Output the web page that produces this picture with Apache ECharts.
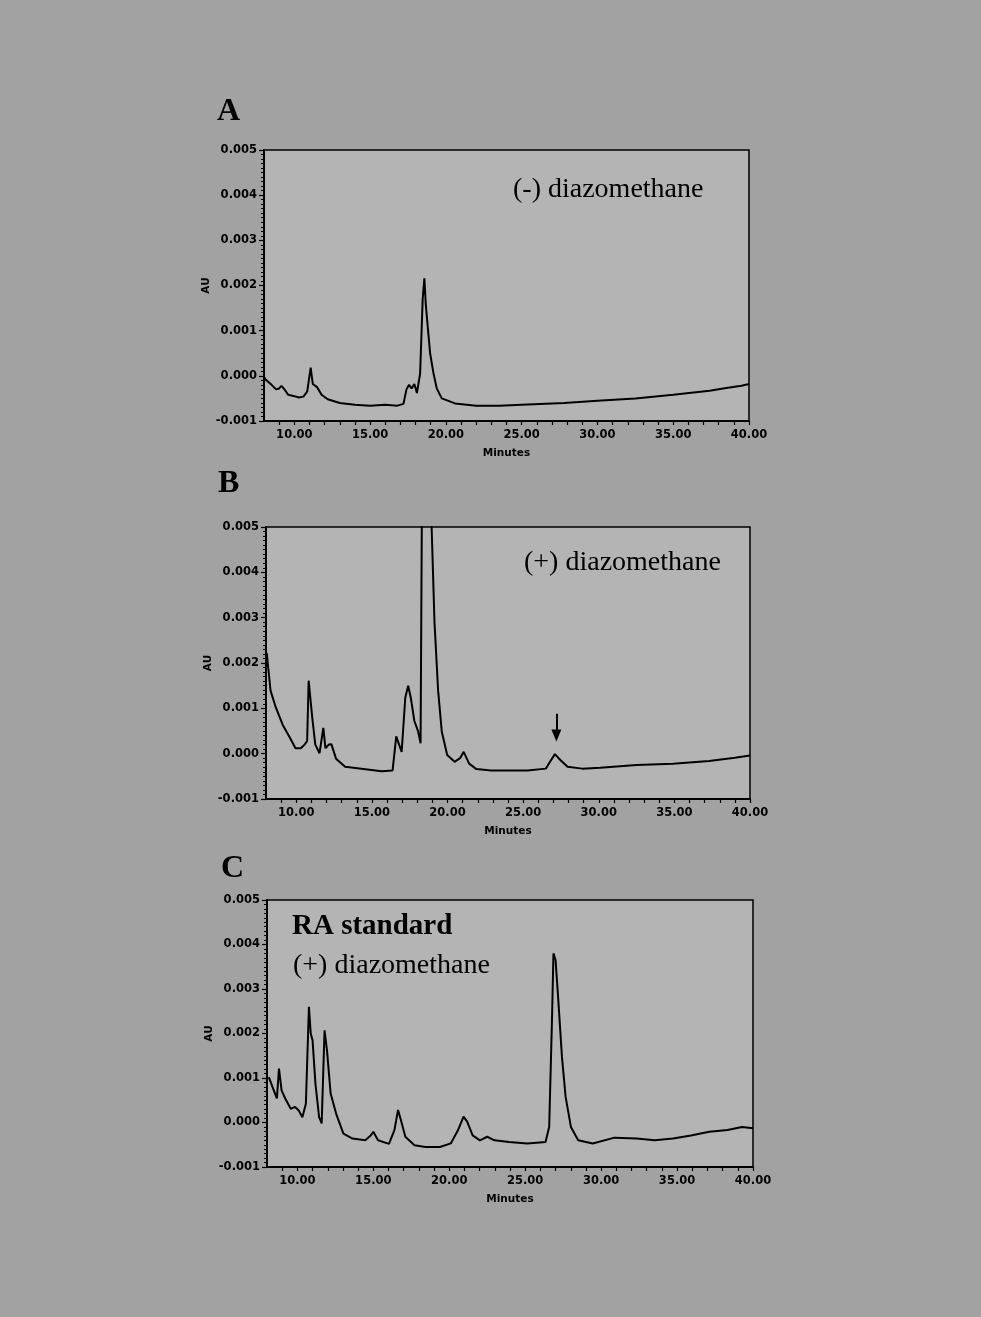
<!DOCTYPE html>
<html>
<head>
<meta charset="utf-8">
<script src="https://cdn.jsdelivr.net/npm/echarts@6/dist/echarts.min.js"></script>
<style>
  html, body { margin: 0; padding: 0; background: #a2a2a2; }
  #chart { width: 981px; height: 1317px; }
</style>
</head>
<body>
<div id="chart"></div>
<script>
// ---- Data ----
const timeA = [8.0, 8.1, 8.5, 8.8, 9.0, 9.15, 9.35, 9.6, 10.0, 10.3, 10.6, 10.85, 11.0, 11.08, 11.15, 11.22, 11.35, 11.5, 11.8, 12.2, 13.0, 14.0, 15.0, 16.0, 16.8, 17.2, 17.4, 17.57, 17.74, 17.92, 18.09, 18.3, 18.47, 18.58, 18.67, 18.8, 18.96, 19.18, 19.4, 19.73, 20.6, 22.0, 23.5, 25.0, 27.8, 30.0, 32.5, 35.0, 37.4, 38.5, 39.5, 40.0];
const auA = [-0.00002, -0.00008, -0.0002, -0.0003, -0.00028, -0.00022, -0.0003, -0.00042, -0.00045, -0.00048, -0.00046, -0.00035, 0.0, 0.00018, 0.0, -0.00018, -0.00014, -0.00025, -0.00042, -0.00052, -0.0006, -0.00064, -0.00066, -0.00064, -0.00066, -0.00062, -0.0003, -0.0002, -0.00028, -0.00018, -0.00038, 0.00005, 0.0017, 0.00216, 0.0016, 0.0011, 0.0005, 0.00006, -0.00028, -0.0005, -0.00061, -0.00066, -0.00066, -0.00064, -0.0006, -0.00055, -0.0005, -0.00042, -0.00033, -0.00027, -0.00022, -0.00018];

const timeB = [8.05, 8.3, 8.65, 9.1, 9.6, 9.95, 10.3, 10.55, 10.72, 10.82, 11.06, 11.26, 11.54, 11.79, 11.93, 12.15, 12.32, 12.63, 13.23, 14.44, 15.64, 16.37, 16.61, 16.8, 16.97, 17.21, 17.4, 17.57, 17.81, 18.06, 18.22, 18.3, 18.35, 18.6, 18.85, 18.95, 19.14, 19.38, 19.62, 19.98, 20.47, 20.83, 21.07, 21.43, 21.91, 22.88, 25.29, 26.5, 26.78, 27.1, 27.46, 27.94, 28.9, 30.1, 32.5, 34.9, 37.3, 39.0, 40.0];
const auB = [0.00222, 0.00139, 0.00102, 0.00064, 0.00034, 0.00012, 0.00012, 0.0002, 0.00028, 0.00161, 0.00079, 0.0002, 0.00001, 0.00057, 0.00012, 0.0002, 0.00021, -0.00011, -0.00029, -0.00034, -0.00039, -0.00037, 0.00038, 0.0002, 0.00004, 0.00124, 0.0015, 0.00124, 0.00072, 0.00049, 0.00023, 0.005, 0.009, 0.012, 0.008, 0.005, 0.0029, 0.00139, 0.00049, -0.00003, -0.00018, -0.0001, 0.00004, -0.00022, -0.00034, -0.00037, -0.00037, -0.00033, -0.00018, -0.00001, -0.00014, -0.00029, -0.00033, -0.00031, -0.00025, -0.00022, -0.00016, -0.00009, -0.00004];

const timeC = [8.12, 8.36, 8.65, 8.79, 8.96, 9.2, 9.56, 9.85, 10.09, 10.33, 10.56, 10.76, 10.88, 11.0, 11.19, 11.43, 11.6, 11.79, 11.95, 12.19, 12.55, 13.03, 13.63, 14.47, 14.83, 15.0, 15.31, 16.03, 16.39, 16.63, 16.82, 17.11, 17.71, 18.43, 19.39, 20.1, 20.58, 20.94, 21.18, 21.54, 22.02, 22.5, 22.98, 23.94, 25.14, 26.34, 26.58, 26.77, 26.86, 27.0, 27.18, 27.42, 27.66, 28.01, 28.49, 29.45, 30.89, 32.33, 33.53, 34.73, 35.92, 37.12, 38.32, 39.28, 40.0];
const auC = [0.00102, 0.0008, 0.00054, 0.00121, 0.00072, 0.00054, 0.00031, 0.00035, 0.00027, 0.00012, 0.00042, 0.0026, 0.002, 0.00185, 0.00087, 0.00012, -0.00002, 0.00207, 0.00162, 0.00065, 0.0002, -0.00025, -0.00036, -0.0004, -0.00029, -0.00021, -0.0004, -0.00048, -0.00017, 0.00028, 0.00005, -0.00032, -0.00051, -0.00055, -0.00055, -0.00047, -0.00017, 0.00013, 0.00002, -0.00029, -0.0004, -0.00032, -0.0004, -0.00044, -0.00047, -0.00044, -0.0001, 0.00238, 0.0038, 0.00365, 0.00275, 0.00148, 0.00058, -0.0001, -0.0004, -0.00047, -0.00034, -0.00036, -0.0004, -0.00036, -0.00029, -0.00021, -0.00017, -0.0001, -0.00013];

// arrow marking the peak in panel B: [time, from AU, to AU]
const arrowB = [27.2, 0.00088, 0.00040];

const panelLetters = ['A', 'B', 'C'];
const xName = 'Minutes';
const yName = 'AU';
const xMin = 8, xMax = 40, yMin = -0.001, yMax = 0.005;

// ---- Build chart ----
const zip = (t, v) => t.map((x, i) => [x, v[i]]);
const grids = [
  { left: 264, top: 150, width: 485, height: 271 },
  { left: 266, top: 527, width: 484, height: 272 },
  { left: 267, top: 900, width: 486, height: 267 }
];
const labelFont = { color: '#000', fontFamily: '"DejaVu Sans", sans-serif', fontWeight: 'bold', fontSize: 11.5 };

const option = {
  animation: false,
  backgroundColor: '#a2a2a2',
  grid: grids.map(g => Object.assign({ show: true, backgroundColor: '#b4b4b4', borderColor: '#000', borderWidth: 1.5, containLabel: false }, g)),
  xAxis: grids.map((g, i) => ({
    type: 'value', gridIndex: i, min: xMin, max: xMax, interval: 1,
    name: xName, nameLocation: 'middle', nameGap: 27,
    nameTextStyle: { color: '#000', fontFamily: '"DejaVu Sans", sans-serif', fontWeight: 'bold', fontSize: 10.5 },
    axisLine: { show: true, onZero: false, lineStyle: { color: '#000', width: 2 } },
    axisTick: { show: true, inside: false, length: 4, lineStyle: { color: '#000', width: 1.2 } },
    axisLabel: Object.assign({ margin: 8, showMinLabel: false, formatter: v => (v >= 10 && Math.abs(v % 5) < 1e-9) ? v.toFixed(2) : '' }, labelFont),
    splitLine: { show: false }
  })),
  yAxis: grids.map((g, i) => ({
    type: 'value', gridIndex: i, min: yMin, max: yMax, interval: 0.001,
    name: yName, nameLocation: 'middle', nameGap: 52, nameRotate: 90,
    nameTextStyle: { color: '#000', fontFamily: '"DejaVu Sans", sans-serif', fontWeight: 'bold', fontSize: 10.5 },
    axisLine: { show: true, onZero: false, lineStyle: { color: '#000', width: 2 } },
    axisTick: { show: true, inside: false, length: 5, lineStyle: { color: '#000', width: 1.2 } },
    minorTick: { show: true, splitNumber: 10, length: 3, lineStyle: { color: '#000', width: 1 } },
    axisLabel: Object.assign({ margin: 7, formatter: v => (Math.abs(v) < 1e-12 ? 0 : v).toFixed(3) }, labelFont),
    splitLine: { show: false }
  })),
  series: [
    { type: 'line', xAxisIndex: 0, yAxisIndex: 0, data: zip(timeA, auA), showSymbol: false, symbol: 'none', clip: true,
      lineStyle: { color: '#000', width: 2 } },
    { type: 'line', xAxisIndex: 1, yAxisIndex: 1, data: zip(timeB, auB), showSymbol: false, symbol: 'none', clip: true,
      lineStyle: { color: '#000', width: 2 },
      markLine: { silent: true, symbol: ['none', 'triangle'], symbolSize: [10, 12], symbolRotate: 180,
        label: { show: false }, lineStyle: { color: '#000', width: 2, type: 'solid' },
        data: [[{ coord: [arrowB[0], arrowB[1]] }, { coord: [arrowB[0], arrowB[2]] }]] } },
    { type: 'line', xAxisIndex: 2, yAxisIndex: 2, data: zip(timeC, auC), showSymbol: false, symbol: 'none', clip: true,
      lineStyle: { color: '#000', width: 2 } }
  ],
  graphic: [
    { type: 'text', left: 217, top: 96, style: { text: panelLetters[0], font: 'bold 32px "Liberation Serif", serif', fill: '#000' } },
    { type: 'text', left: 218, top: 468, style: { text: panelLetters[1], font: 'bold 32px "Liberation Serif", serif', fill: '#000' } },
    { type: 'text', left: 221, top: 853, style: { text: panelLetters[2], font: 'bold 32px "Liberation Serif", serif', fill: '#000' } },
    { type: 'text', left: 513, top: 176, style: { text: '(-) diazomethane', font: '28px "Liberation Serif", serif', fill: '#000' } },
    { type: 'text', left: 524, top: 549, style: { text: '(+) diazomethane', font: '28px "Liberation Serif", serif', fill: '#000' } },
    { type: 'text', left: 292, top: 912, style: { text: 'RA standard', font: 'bold 29px "Liberation Serif", serif', fill: '#000' } },
    { type: 'text', left: 293, top: 952, style: { text: '(+) diazomethane', font: '28px "Liberation Serif", serif', fill: '#000' } }
  ]
};

const chart = echarts.init(document.getElementById('chart'), null, { renderer: 'canvas', width: 981, height: 1317 });
chart.setOption(option);
</script>
</body>
</html>
